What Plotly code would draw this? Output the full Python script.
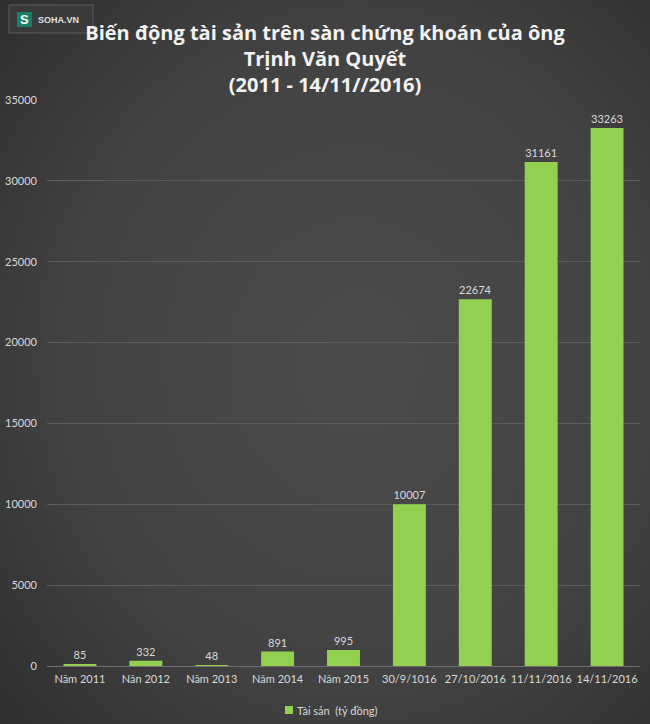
import base64
import plotly.graph_objects as go

categories = ["Năm 2011", "Năn 2012", "Năm 2013", "Năm 2014", "Năm 2015",
              "30/9/1016", "27/10/2016", "11/11/2016", "14/11/2016"]
values = [85, 332, 48, 891, 995, 10007, 22674, 31161, 33263]
y_ticks = [0, 5000, 10000, 15000, 20000, 25000, 30000, 35000]
y_tick_labels = ["0", "5000", "10000", "15000", "20000", "25000", "30000", "35000"]
series_name = "Tài sản  (tỷ đồng)"

font_family = "Lato, 'Open Sans', 'Noto Sans', sans-serif"
text_col = "#d9d9d9"
bar_col = "#92d050"

W, H = 650, 724
L, R, T, B = 47, 10, 100, 58
PW, PH = W - L - R, H - T - B

def px(x):
    return (x - L) / PW

def py(y):
    return (H - B - y) / PH

svg = (f'<svg xmlns="http://www.w3.org/2000/svg" width="{W}" height="{H}">'
       '<defs><radialGradient id="g" cx="0.55" cy="0.5" r="0.75">'
       '<stop offset="0" stop-color="#4b4b4b"/><stop offset="0.6" stop-color="#424242"/>'
       '<stop offset="1" stop-color="#2e2e2e"/></radialGradient></defs>'
       f'<rect width="{W}" height="{H}" fill="url(#g)"/></svg>')
bg_src = "data:image/svg+xml;base64," + base64.b64encode(svg.encode()).decode()

fig = go.Figure()
fig.add_trace(go.Bar(
    x=categories, y=values, name=series_name,
    marker=dict(color=bar_col, line=dict(width=0)),
    text=[str(v) for v in values], textposition="outside",
    textfont=dict(color=text_col, size=11, family=font_family),
    cliponaxis=False, showlegend=False,
))

fig.update_layout(
    width=W, height=H,
    margin=dict(l=L, r=R, t=T, b=B, autoexpand=False),
    paper_bgcolor="#3f3f3f", plot_bgcolor="rgba(0,0,0,0)",
    bargap=0.5,
    font=dict(family=font_family, color=text_col, size=11),
    title=dict(
        text="Biến động tài sản trên sàn chứng khoán của ông<br>Trịnh Văn Quyết<br>(2011 - 14/11//2016)",
        x=0.5, xanchor="center", y=1 - 40 / H, yanchor="top",
        font=dict(size=20, color="#f2f2f2", family="'Open Sans', sans-serif", weight="bold"),
    ),
    xaxis=dict(showgrid=False, showline=False, ticks="", automargin=False,
               tickfont=dict(size=11, color=text_col), ticklabelstandoff=5),
    yaxis=dict(range=[0, 35000], tickvals=y_ticks, ticktext=y_tick_labels, showgrid=True,
               gridcolor="#5c5c5c", gridwidth=1, zeroline=True, zerolinecolor="#6e6e6e",
               zerolinewidth=1, ticks="", automargin=False,
               tickfont=dict(size=11, color=text_col), ticklabelstandoff=9),
    showlegend=False,
    images=[dict(source=bg_src, xref="paper", yref="paper", x=px(0), y=py(0),
                 sizex=W / PW, sizey=H / PH, xanchor="left", yanchor="top",
                 sizing="stretch", layer="below")],
)

# legend (compact: small square swatch followed by the series name)
fig.add_shape(type="rect", xref="paper", yref="paper",
              x0=px(285), x1=px(293), y0=py(714), y1=py(706),
              fillcolor=bar_col, line=dict(width=0))
fig.add_annotation(xref="paper", yref="paper", x=px(295), y=py(710),
                   xanchor="left", yanchor="middle", text=series_name, showarrow=False,
                   font=dict(size=11, color=text_col, family=font_family))

# SOHA.VN logo box
fig.add_shape(type="rect", xref="paper", yref="paper",
              x0=px(9), x1=px(93), y0=py(33), y1=py(5),
              fillcolor="#3a3a3a", line=dict(color="#5a5a5a", width=1))
fig.add_shape(type="rect", xref="paper", yref="paper",
              x0=px(17), x1=px(32), y0=py(27), y1=py(12),
              fillcolor="#16806b", line=dict(width=0))
fig.add_annotation(xref="paper", yref="paper", x=px(24.5), y=py(19.5),
                   xanchor="center", yanchor="middle",
                   text="<b>S</b>", showarrow=False,
                   font=dict(size=13, color="white", family="Arial"))
fig.add_annotation(xref="paper", yref="paper", x=px(36), y=py(19.5),
                   xanchor="left", yanchor="middle",
                   text="<b>SOHA.VN</b>", showarrow=False,
                   font=dict(size=9, color="#e0e0e0", family="Arial"))

fig.write_html("out.html", config={"displayModeBar": False},
               post_script="document.body.style.margin='0';document.body.style.background='#2e2e2e';")
